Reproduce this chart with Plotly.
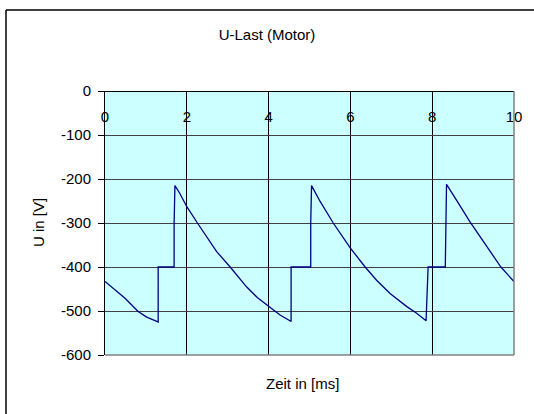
import plotly.graph_objects as go

# ---- data ----
time_ms = [0.00, 0.24, 0.49, 0.81, 1.02, 1.28, 1.30, 1.30, 1.69, 1.69, 1.71,
           1.83, 2.00, 2.26, 2.73, 3.06, 3.46, 3.73, 4.00, 4.28, 4.52, 4.55, 4.55,
           5.03, 5.03, 5.05,
           5.26, 5.58, 6.00, 6.36, 6.64, 6.97, 7.38, 7.62, 7.85, 7.88, 7.90,
           8.32, 8.33, 8.35,
           8.64, 8.92, 9.25, 9.68, 9.97, 10.00]
u_volt = [-433, -452, -471, -501, -514, -524, -525, -400, -400, -300, -215,
          -233, -263, -300, -365, -400, -445, -470, -490, -509, -522, -524, -400,
          -400, -300, -215,
          -251, -300, -357, -400, -430, -460, -490, -505, -522, -445, -400,
          -400, -300, -212,
          -255, -297, -342, -400, -430, -433]

x_ticks = [0, 2, 4, 6, 8, 10]
x_ticktext = ["0", "2", "4", "6", "8", "10"]
y_ticks = [0, -100, -200, -300, -400, -500, -600]
y_ticktext = ["0", "-100", "-200", "-300", "-400", "-500", "-600"]

title_text = "U-Last (Motor)"
x_title = "Zeit in [ms]"
y_title = "U in [V]"

# ---- layout constants (pixels) ----
W, H = 534, 414
L, R, T, B = 105, 514, 91, 355
pw, ph = R - L, B - T

def px_x(px):
    return (px - L) / pw

def px_y(py):
    return (B - py) / ph

FONT = "Liberation Sans, Arial, sans-serif"
FS = 15

fig = go.Figure()
fig.add_trace(go.Scatter(x=time_ms, y=u_volt, mode="lines",
                         line=dict(color="#000080", width=1.3),
                         showlegend=False, hoverinfo="skip"))

fig.update_layout(
    width=W, height=H,
    margin=dict(l=L, r=W - R, t=T, b=H - B, pad=0),
    paper_bgcolor="white",
    plot_bgcolor="#CCFFFF",
    font=dict(family=FONT, size=FS, color="black"),
    title=dict(text=title_text, x=0.5, xref="container", xanchor="center",
               y=1 - 35 / H, yref="container", yanchor="middle",
               font=dict(family=FONT, size=FS, color="black")),
    xaxis=dict(range=[0, 10], side="bottom", anchor="free", position=1,
               tickvals=x_ticks, ticktext=x_ticktext,
               ticklabelstandoff=12,
               showgrid=True, gridcolor="black", gridwidth=1,
               showline=True, linecolor="black", linewidth=1,
               ticks="", zeroline=False, fixedrange=True,
               tickfont=dict(family=FONT, size=FS, color="black")),
    yaxis=dict(range=[-600, 0], tickvals=y_ticks, ticktext=y_ticktext,
               showgrid=True, gridcolor="#404040", gridwidth=1,
               showline=True, linecolor="black", linewidth=1,
               ticks="outside", ticklen=6, tickcolor="black", tickwidth=1,
               ticklabelstandoff=4,
               zeroline=False, fixedrange=True,
               tickfont=dict(family=FONT, size=FS, color="black")),
    annotations=[
        dict(text=x_title, xref="paper", yref="paper",
             x=px_x(302), y=px_y(383), xanchor="center", yanchor="middle",
             showarrow=False, font=dict(family=FONT, size=FS, color="black")),
        dict(text=y_title, xref="paper", yref="paper", textangle=-90,
             x=px_x(38), y=px_y(223), xanchor="center", yanchor="middle",
             showarrow=False, font=dict(family=FONT, size=FS, color="black")),
    ],
    shapes=[
        # plot-area border (gray, right and bottom)
        dict(type="line", xref="paper", yref="paper", x0=1, x1=1, y0=0, y1=1,
             line=dict(color="#808080", width=1.5)),
        dict(type="line", xref="paper", yref="paper", x0=0, x1=1, y0=0, y1=0,
             line=dict(color="#808080", width=1.5)),
        # outer chart frame (left and top)
        dict(type="line", xref="paper", yref="paper",
             x0=px_x(6), x1=px_x(6), y0=px_y(10), y1=px_y(H + 5),
             line=dict(color="black", width=1.5)),
        dict(type="line", xref="paper", yref="paper",
             x0=px_x(6), x1=px_x(W + 5), y0=px_y(10), y1=px_y(10),
             line=dict(color="black", width=1.5)),
    ],
)

fig.write_html("out.html")
